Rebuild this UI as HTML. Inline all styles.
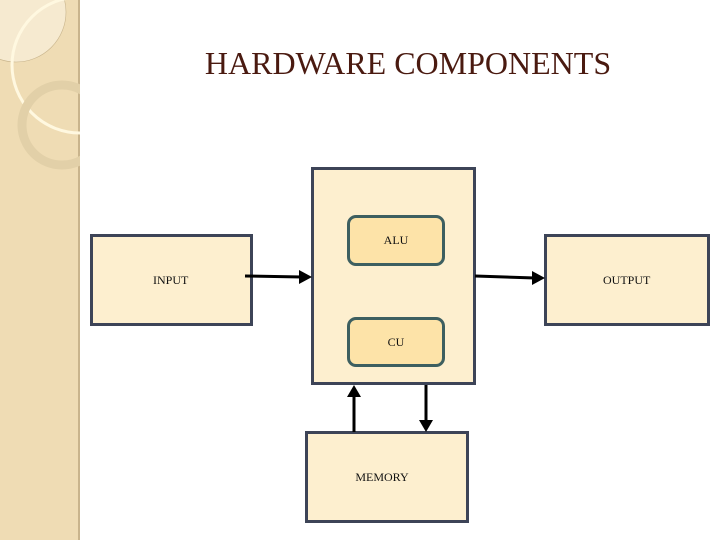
<!DOCTYPE html>
<html><head><style>
body{margin:0;width:720px;height:540px;background:#fff;position:relative;overflow:hidden;font-family:"Liberation Serif",serif}
.b{position:absolute;box-sizing:border-box;border:3px solid #3d4457;background:#fdefcf;display:flex;align-items:center;font-size:12px;color:#111}
.r{position:absolute;box-sizing:border-box;border:3px solid #3d5f60;background:#fde3a8;border-radius:9px;display:flex;align-items:center;justify-content:center;font-size:12px;color:#111}
</style></head><body>
<div style="position:absolute;left:0;top:0;width:78px;height:540px;background:#efdcb4;border-right:2px solid #c9b48c"></div>
<svg style="position:absolute;left:0;top:0" width="80" height="540">
<circle cx="16" cy="12" r="50" fill="#f6ead0" stroke="#c8b48c" stroke-width="0.6"/>
<circle cx="80" cy="65" r="68" fill="none" stroke="#fff8e0" stroke-width="3"/>
<circle cx="62" cy="125" r="40" fill="none" stroke="#e2d0a8" stroke-width="9"/>
</svg>
<div style="position:absolute;left:0;top:45px;width:816px;text-align:center;font-size:32px;color:#4a1a10;letter-spacing:0px">HARDWARE COMPONENTS</div>
<div class="b" style="left:90px;top:234px;width:163px;height:92px;padding-left:60px">INPUT</div>
<div class="b" style="left:544px;top:234px;width:166px;height:92px;padding-left:56px">OUTPUT</div>
<div class="b" style="left:311px;top:167px;width:165px;height:218px"></div>
<div class="r" style="left:347px;top:215px;width:98px;height:51px">ALU</div>
<div class="r" style="left:347px;top:317px;width:98px;height:50px">CU</div>
<div class="b" style="left:305px;top:431px;width:164px;height:92px;justify-content:center;padding-right:10px">MEMORY</div>
<svg style="position:absolute;left:0;top:0" width="720" height="540">
<g stroke="#000" stroke-width="3" fill="#000">
<line x1="245" y1="276" x2="302" y2="277"/><polygon points="312,277 299,270 299,284" stroke="none"/>
<line x1="475" y1="276" x2="535" y2="278"/><polygon points="545,278 532,271 532,285" stroke="none"/>
<line x1="354" y1="432" x2="354" y2="394"/><polygon points="354,385 347,397 361,397" stroke="none"/>
<line x1="426" y1="385" x2="426" y2="422"/><polygon points="426,432 419,420 433,420" stroke="none"/>
</g></svg>
</body></html>
